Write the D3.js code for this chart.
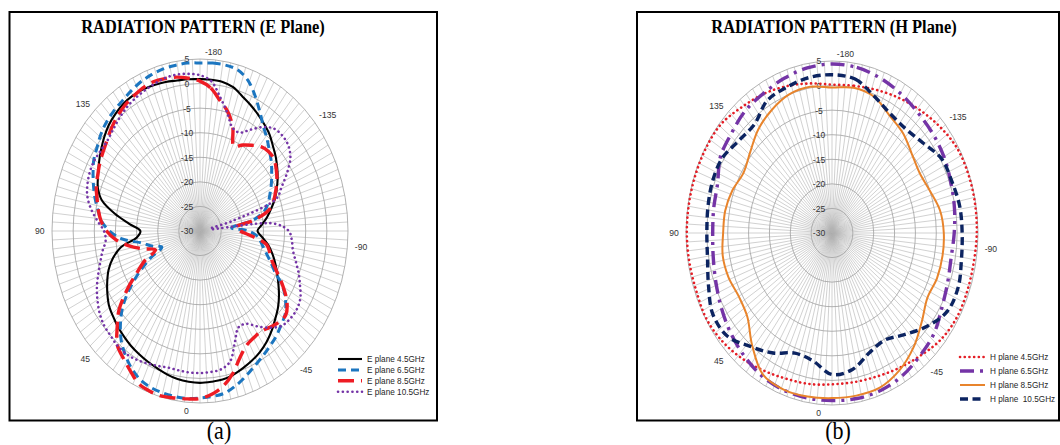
<!DOCTYPE html>
<html>
<head>
<meta charset="utf-8">
<script src="https://cdn.jsdelivr.net/npm/d3@7"></script>
<style>
  html, body { margin: 0; padding: 0; background: #ffffff; }
  svg { display: block; }
</style>
</head>
<body>
<svg id="chart" width="1060" height="445"></svg>
<script>
// ---- measurement angles (degrees) ----
const anglesE = d3.range(-180, 180, 5);   // E-plane sampled every 5 deg
const anglesH = d3.range(-180, 180, 10);  // H-plane sampled every 10 deg

// ---- E plane patterns (dB) ----
const ePlane45 = [
  0.9, 0.9, 0.8, 0.3, -0.8, -1.7, -2.6, -3.5, -4.4, -5.6,
  -6.6, -7.7, -8.8, -10.0, -11.2, -12.6, -13.9, -15.3, -16.4, -15.2,
  -13.6, -12.3, -11.1, -9.9, -8.6, -7.2, -5.9, -4.8, -3.6, -2.5,
  -1.6, -0.9, -0.3, 0.3, 0.7, 0.8, 0.9, 0.8, 0.6, 0.2,
  -0.3, -0.7, -1.1, -1.5, -2.0, -2.5, -3.1, -3.7, -4.7, -5.8,
  -7.0, -8.7, -11.0, -15.0, -15.9, -13.2, -9.5, -6.0, -4.3, -3.4,
  -2.4, -1.4, -0.4, 0.5, 1.1, 1.6, 1.8, 1.8, 1.6, 1.4, 1.1, 1.0
];
const ePlane65 = [
  4.2, 4.3, 4.3, 4.0, 2.8, 0.6, -1.8, -3.9, -5.4, -6.8,
  -8.0, -9.3, -10.5, -11.7, -12.8, -14.2, -17.3, -22.5, -18.5, -16.2,
  -15.2, -14.0, -12.4, -10.5, -7.4, -5.3, -3.7, -2.9, -2.0, -1.3,
  -0.5, 0.4, 1.5, 2.6, 3.5, 3.8, 4.0, 4.2, 4.2, 4.1,
  3.9, 3.4, 2.3, 0.8, -1.0, -3.4, -6.2, -9.8, -13.6, -17.2,
  -20.4, -18.2, -16.0, -11.5, -8.6, -6.6, -5.5, -4.3, -3.2, -2.1,
  -1.0, -0.3, 0.6, 1.3, 1.8, 2.2, 2.8, 3.4, 3.8, 4.1, 4.2, 4.3
];
const ePlane85 = [
  0.5, -0.8, -3.0, -4.8, -7.4, -11.0, -9.8, -8.7, -7.6, -7.1,
  -7.2, -8.0, -9.0, -10.2, -11.4, -13.0, -16.8, -21.5, -20.5, -17.6,
  -14.0, -12.9, -11.8, -9.8, -7.3, -4.9, -3.5, -3.7, -4.4, -5.0,
  -4.8, -4.2, -2.5, 0.0, 2.0, 3.3, 4.1, 4.3, 4.5, 4.8,
  4.7, 4.3, 2.9, 1.6, 0.4, -2.3, -5.0, -8.8, -12.6, -15.5,
  -18.8, -16.0, -12.8, -10.0, -7.9, -6.5, -5.6, -4.8, -3.9, -3.3,
  -2.6, -2.0, -1.3, -0.4, 0.4, 1.1, 1.6, 2.1, 2.3, 2.1, 1.8, 1.2
];
const ePlane105 = [
  1.7, 0.6, -2.4, -5.1, -7.6, -7.9, -6.2, -4.2, -2.8, -2.5,
  -2.8, -3.9, -6.2, -8.7, -10.8, -22.0, -27.5, -12.5, -9.0, -8.2,
  -7.7, -6.6, -5.2, -3.9, -2.6, -2.1, -2.2, -2.7, -4.3, -6.3,
  -8.2, -8.4, -5.9, -2.5, -1.4, -1.2, -1.1, -1.1, -1.2, -1.2,
  -0.8, -0.3, 0.2, 0.5, 0.4, 0.0, -0.3, -1.0, -2.0, -3.1,
  -4.4, -5.6, -6.6, -7.6, -7.3, -5.6, -3.8, -2.4, -1.7, -1.3,
  -1.2, -1.4, -1.4, -0.9, -0.2, 0.5, 1.0, 1.4, 1.8, 2.2, 2.3, 2.1
];

// ---- H plane patterns (dB) ----
const hPlane45 = [
  0.2, 0.4, 1.0, 1.8, 2.7, 3.7, 4.6, 4.8, 4.8, 4.7,
  4.5, 4.5, 4.5, 3.9, 2.7, 1.8, 1.1, 0.8, 0.8, 1.2,
  1.6, 2.4, 3.4, 4.3, 4.8, 4.6, 4.7, 4.8, 4.8, 4.8,
  4.8, 4.6, 3.5, 2.7, 1.8, 0.9
];
const hPlane65 = [
  4.4, 4.2, 3.6, 2.8, 2.0, 1.5, 1.0, 0.3, -0.2, -0.7,
  -1.0, -0.5, 0.4, 1.9, 2.7, 3.6, 4.1, 4.2, 4.1, 4.1,
  4.0, 3.6, 2.7, 1.7, 0.6, -0.4, -1.1, -1.4, -1.2, -0.8,
  0.9, 1.5, 2.4, 2.8, 3.5, 4.1
];
const hPlane85 = [
  -0.4, 0.0, -0.5, -2.4, -3.5, -5.0, -5.7, -5.0, -3.7, -3.2,
  -3.1, -3.2, -3.6, -1.9, 0.4, 2.3, 3.5, 3.6, 3.6, 3.8,
  3.9, 3.2, -0.2, -3.5, -4.2, -3.6, -3.4, -3.9, -4.0, -4.6,
  -5.5, -4.4, -2.5, -1.1, 0.0, 0.2
];
const hPlane105 = [
  2.2, 1.8, -0.4, -2.0, -2.4, -1.5, 0.3, 0.6, 1.1, 1.2,
  1.5, 2.2, 1.9, -0.4, -3.0, -4.8, -4.0, -1.8, -1.2, -3.6,
  -4.0, -1.8, 0.2, 2.7, 3.0, 1.5, 0.3, 0.0, 0.2, 0.5,
  0.4, -0.8, -1.1, 1.1, 1.6, 2.1
];

// ---- axis ticks and names ----
const radialTicks = [5, 0, -5, -10, -15, -20, -25, -30];
const angleTicks = [-180, -135, -90, -45, 0, 45, 90, 135];
const namesE = ["E plane 4.5GHz", "E plane 6.5GHz", "E plane 8.5GHz", "E plane 10.5GHz"];
const namesH = ["H plane 4.5GHz", "H plane 6.5GHz", "H plane 8.5GHz", "H plane  10.5GHz"];
const titles = ["RADIATION PATTERN (E Plane)", "RADIATION PATTERN (H Plane)"];
const captions = ["(a)", "(b)"];

// ---- line styles ----
const stylesE = [
  { color: "#000000", width: 2.1, dash: null, cap: "butt" },
  { color: "#1C76C0", width: 3.0, dash: "8 5", cap: "butt" },
  { color: "#EE1C24", width: 3.4, dash: "16 7", cap: "butt" },
  { color: "#7434A6", width: 2.6, dash: "0.1 4.7", cap: "round" }
];
const stylesH = [
  { color: "#E41E26", width: 2.6, dash: "0.1 4.6", cap: "round" },
  { color: "#7434A6", width: 3.4, dash: "14 6 3 6", cap: "butt" },
  { color: "#E8842C", width: 2.0, dash: null, cap: "butt" },
  { color: "#0C2461", width: 3.4, dash: "8 4.5", cap: "butt" }
];

// vertical stretch applied to lettering
const SY = 1.16;
const FONT = "'Liberation Sans', Arial, sans-serif";
const SERIF = "'Liberation Serif', 'Times New Roman', serif";

const panels = [
  {
    cx: 200, cy: 231, rx: 148, ry: 172,
    frame: [9.5, 12, 427.5, 408.5],
    titleX: 203, titleY: 33, capX: 219,
    legend: { x1: 338, x2: 362, tx: 367, y0: 359, step: 10.9 },
    angles: anglesE, series: [ePlane45, ePlane65, ePlane85, ePlane105],
    names: namesE, styles: stylesE, title: titles[0], caption: captions[0]
  },
  {
    cx: 832, cy: 233, rx: 146, ry: 172,
    frame: [637, 12, 422, 408.5],
    titleX: 834, titleY: 33, capX: 838,
    legend: { x1: 960, x2: 985, tx: 990, y0: 357, step: 14 },
    angles: anglesH, series: [hPlane45, hPlane65, hPlane85, hPlane105],
    names: namesH, styles: stylesH, title: titles[1], caption: captions[1]
  }
];

const svg = d3.select("#chart");
const rScale = d3.scaleLinear().domain([-30, 5]).range([0, 1]);
// -180 deg sits at the top, angles increase clockwise
const aScale = d3.scaleLinear().domain([-180, 180]).range([0, 2 * Math.PI]);
const spokes = d3.range(-180, 180, 3);

function project(p, deg, r) {
  const a = aScale(deg);
  return [p.cx + p.rx * r * Math.sin(a), p.cy - p.ry * r * Math.cos(a)];
}

function label(g, x, y, txt) {
  return g.append("text")
    .attr("transform", `translate(${x},${y}) scale(1,${SY})`)
    .text(txt);
}

const lineGen = d3.line().curve(d3.curveCatmullRomClosed.alpha(0.5));

panels.forEach(p => {
  const g = svg.append("g");

  // frame
  g.append("rect")
    .attr("x", p.frame[0]).attr("y", p.frame[1])
    .attr("width", p.frame[2]).attr("height", p.frame[3])
    .attr("fill", "none").attr("stroke", "#000").attr("stroke-width", 2);

  // spokes
  g.append("g").selectAll("line").data(spokes).join("line")
    .attr("x1", p.cx).attr("y1", p.cy)
    .attr("x2", d => project(p, d, 1)[0])
    .attr("y2", d => project(p, d, 1)[1])
    .attr("stroke", "#b2b2b2").attr("stroke-width", 0.6);

  // rings
  g.append("g").selectAll("ellipse").data(radialTicks.filter(v => v > -30)).join("ellipse")
    .attr("cx", p.cx).attr("cy", p.cy)
    .attr("rx", d => p.rx * rScale(d)).attr("ry", d => p.ry * rScale(d))
    .attr("fill", "none").attr("stroke", "#a4a4a4").attr("stroke-width", 0.85);

  // radial tick labels
  const rl = g.append("g").attr("font-family", FONT).attr("font-size", 8.6)
    .attr("fill", "#333333").attr("text-anchor", "middle");
  radialTicks.forEach(v => {
    label(rl, p.cx - 13, p.cy - p.ry * rScale(v), v).attr("dy", "0.35em");
  });

  // angle labels
  const al = g.append("g").attr("font-family", FONT).attr("font-size", 8.6).attr("fill", "#333333");
  angleTicks.forEach(t => {
    const s = Math.sin(aScale(t));
    const turn = s > -0.1 ? 5 : 0;
    const [x, y] = project(p, t + turn, 1.05);
    label(al, x, y, t).attr("dy", "0.35em")
      .attr("text-anchor", s > 0.3 ? "start" : (s < -0.3 ? "end" : "middle"));
  });

  // pattern curves
  p.series.forEach((vals, i) => {
    const st = p.styles[i];
    const pts = p.angles.map((a, k) => project(p, a, rScale(vals[k])));
    g.append("path")
      .attr("d", lineGen(pts))
      .attr("fill", "none")
      .attr("stroke", st.color)
      .attr("stroke-width", st.width)
      .attr("stroke-dasharray", st.dash)
      .attr("stroke-linecap", st.cap)
      .attr("stroke-linejoin", "round");
  });

  // legend
  const lg = g.append("g").attr("font-family", FONT).attr("font-size", 8.2).attr("fill", "#262626");
  p.names.forEach((n, i) => {
    const st = p.styles[i];
    const y = p.legend.y0 + i * p.legend.step;
    lg.append("line")
      .attr("x1", p.legend.x1).attr("x2", p.legend.x2).attr("y1", y).attr("y2", y)
      .attr("stroke", st.color).attr("stroke-width", st.width)
      .attr("stroke-dasharray", st.dash).attr("stroke-linecap", st.cap);
    label(lg, p.legend.tx, y, n).attr("dy", "0.35em").attr("xml:space", "preserve")
      .style("white-space", "pre");
  });

  // title
  label(g, p.titleX, p.titleY, p.title)
    .attr("font-family", SERIF).attr("font-weight", "bold").attr("font-size", 16.4)
    .attr("text-anchor", "middle").attr("fill", "#000");

  // caption below frame
  label(svg, p.capX, 439, p.caption)
    .attr("font-family", SERIF).attr("font-size", 22)
    .attr("text-anchor", "middle").attr("fill", "#000");
});
</script>
</body>
</html>
